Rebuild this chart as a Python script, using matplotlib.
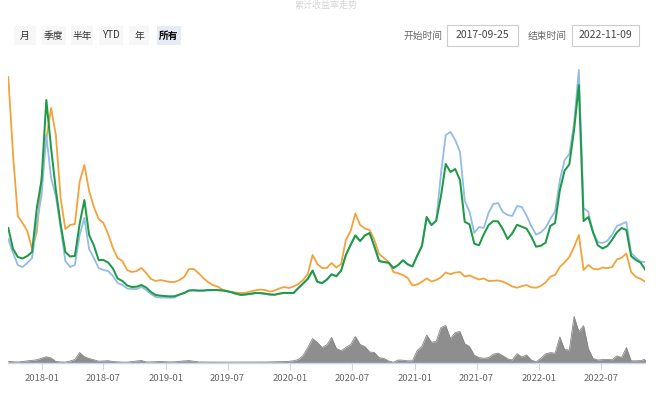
import numpy as np
import pandas as pd
import matplotlib
matplotlib.use('Agg')
import matplotlib.pyplot as plt
from matplotlib.patches import Rectangle

plt.rcParams['font.family'] = ['Noto Sans CJK SC', 'DejaVu Sans']

# ---------------- data ----------------
start_date = '2017-09-25'
end_date = '2022-11-09'
n_points = 135

orange = [223, 145, 84, 77, 69, 51, 68, 122, 161, 192,
          165, 102, 71, 75, 76, 118, 135, 109, 93, 81,
          77, 66, 52, 42, 39, 30, 28, 29, 32, 27,
          21, 19, 20, 19, 18, 18, 20, 23, 31, 31,
          27, 22, 18, 15, 13.5, 10.5, 9, 8, 7.3, 7,
          7.3, 8.5, 9.7, 10.4, 10, 8.4, 9.5, 11.5, 13, 12,
          13.5, 16, 20, 26, 45, 36, 32, 32, 37, 32.5,
          36, 60, 69, 86.5, 75, 71.5, 70, 60, 46, 42,
          38, 28, 26.7, 25, 22, 14.5, 15.5, 18.2, 21.7, 18.5,
          20, 22.7, 27.5, 25.8, 27.4, 28, 23.5, 24.5, 22.4, 20.5,
          21.5, 19, 19.2, 19.5, 18.4, 16.2, 13.5, 12.3, 13.8, 15,
          12.7, 12.3, 14, 17.5, 23.4, 25, 33, 37.6, 43, 53,
          65, 30, 35, 31.2, 30.6, 32.5, 31.8, 33, 40.5, 42.2,
          46.5, 28, 23, 21.2, 18]

green = [72, 51, 43, 41.5, 44, 48, 92, 120, 200, 152,
         110, 76, 48, 43.5, 44, 76, 100, 65, 54.5, 40,
         40, 37.5, 31.5, 21.5, 19, 14.5, 13, 13.3, 15, 12.5,
         8, 5, 4.3, 4, 3.6, 3.8, 5.5, 7.1, 9.5, 9.8,
         9.4, 9.5, 9.9, 10, 10, 9.6, 8.8, 7.7, 6.2, 5.1,
         5.6, 6.2, 7.1, 6.9, 6.4, 5.6, 5.3, 6.4, 7.2, 7,
         7, 12, 16.5, 21.3, 29.5, 18.2, 17, 20.4, 25.7, 23.8,
         29.4, 45.1, 55.2, 64.6, 59, 64.6, 67, 53.5, 39, 38,
         37.3, 32, 35, 39.7, 35.7, 33.6, 44.3, 54.2, 83, 75,
         79.2, 103.8, 136, 128, 131, 120, 78.2, 75.7, 56.4, 54.7,
         65.6, 74.8, 78.9, 78.6, 71, 61, 66.7, 75.2, 73.3, 71.4,
         63.5, 53.3, 54.2, 57.3, 74, 77, 109.7, 129.3, 135.6, 170.2,
         215, 79, 83, 67.5, 54.7, 51.5, 54, 60.2, 67.7, 72,
         70, 43.8, 40, 37.4, 30]

blue = [61, 47, 35, 33, 37, 42, 77, 105, 165, 122,
        104, 72, 39, 33, 35, 65, 82, 51, 42, 32,
        30, 29, 24, 17, 15, 11.5, 11, 11, 13, 10,
        6, 3, 2.5, 2.5, 2.2, 2.5, 5.3, 6.9, 9.3, 9.6,
        9.2, 9.3, 9.7, 9.8, 9.8, 9.4, 8.6, 7.5, 6.0, 4.9,
        5.4, 6.0, 6.9, 6.7, 6.2, 5.4, 5.1, 6.2, 7.0, 6.8,
        6.8, 11.8, 16.3, 21.1, 29.3, 18.0, 16.8, 20.2, 25.5, 23.6,
        29.2, 44.9, 55.0, 64.4, 58.8, 64.4, 66.8, 53.3, 38.8, 37.8,
        37.1, 31.8, 34.8, 39.5, 35.5, 33.4, 44.1, 54.0, 82.8, 74.8,
        79.2, 126, 165, 168, 160, 148.3, 99, 88.5, 67, 73,
        72, 87, 96, 97, 88, 85, 84, 94, 93, 84.5,
        74, 65.4, 67.6, 72.2, 81, 88.5, 119.7, 139.7, 146, 176.5,
        230, 92, 88, 67.3, 58, 57, 59.2, 65.3, 74, 76,
        78, 47, 42.5, 38.3, 38]

navigator = [1, 0.7, 0.5, 1, 1.6, 2.2, 2.7, 4.3, 5.8, 4.5,
             1, 0.6, 0.4, 1.5, 3, 10, 5.8, 4, 2.6, 1.3,
             1.6, 1.8, 1, 0.7, 0.4, 0.4, 0.9, 1.5, 2, 0.5,
             0.6, 0.8, 1, 0.8, 0.6, 0.7, 1.2, 1.6, 1.9, 1.2,
             0.6, 0.5, 0.4, 0.4, 0.4, 0.3, 0.3, 0.3, 0.3, 0.4,
             0.4, 0.4, 0.4, 0.5, 0.5, 0.6, 0.7, 0.8, 0.9, 1.2,
             1.7, 3, 7, 15, 24, 20, 15, 17.7, 25, 14,
             11.8, 15, 18, 26, 18, 16, 10.5, 10, 4.8, 4,
             1.5, 0.2, 2.5, 2.3, 1.7, 1.7, 12, 16.3, 27.5, 20.3,
             21, 35, 37, 24, 30, 31, 18.8, 16, 7.4, 4.8,
             4.3, 4.8, 8.3, 9.4, 6.8, 3.7, 2.5, 8.8, 5.5, 7.6,
             2.5, 0.7, 4.2, 8.5, 9.9, 9.3, 25.5, 13, 12.5, 46,
             31, 36.8, 13.9, 4, 2.5, 2.9, 3.1, 2.7, 6.6, 5,
             15, 1.7, 1.7, 1.9, 3.3]

tick_labels = ['2018-01', '2018-07', '2019-01', '2019-07', '2020-01',
               '2020-07', '2021-01', '2021-07', '2022-01', '2022-07']
buttons = ['月', '季度', '半年', 'YTD', '年', '所有']
selected_button = '所有'
start_label = '开始时间'
end_label = '结束时间'
title_text = '累计收益率走势'

# ---------------- figure ----------------
W, H = 671, 397
fig = plt.figure(figsize=(W / 100, H / 100), dpi=100)
fig.patch.set_facecolor('white')

dates = pd.date_range(start_date, end_date, periods=n_points)

x_left, x_right = 8.3, 645.4
main_top, main_bot = 65, 300
nav_top, nav_bot = 312.5, 362.5

ax = fig.add_axes([x_left / W, 1 - main_bot / H, (x_right - x_left) / W,
                   (main_bot - main_top) / H])
ax.plot(dates, orange, color='#F2A33A', lw=1.3, solid_joinstyle='round')
ax.plot(dates, blue, color='#93BCE6', lw=1.3, solid_joinstyle='round')
ax.plot(dates, green, color='#1F9A48', lw=1.45, solid_joinstyle='round')
ax.set_xlim(dates[0], dates[-1])
ax.set_ylim(0, 235)
ax.axis('off')

nav = fig.add_axes([x_left / W, 1 - nav_bot / H, (x_right - x_left) / W,
                    (nav_bot - nav_top) / H])
nav.fill_between(dates, navigator, 0, color='#8E8E8E', lw=0)
nav.plot(dates, navigator, color='#858585', lw=0.6)
nav.set_xlim(dates[0], dates[-1])
nav.set_ylim(0, 50)
for s in ['top', 'left', 'right']:
    nav.spines[s].set_visible(False)
nav.spines['bottom'].set_color('#CCD6EB')
nav.spines['bottom'].set_linewidth(1.0)
nav.set_yticks([])
nav.set_xticks([pd.Timestamp(t + '-01') for t in tick_labels])
nav.set_xticklabels(tick_labels, fontsize=6.8, color='#666666')
nav.tick_params(axis='x', length=5, width=0.8, color='#CCD6EB', pad=3)
nav.set_facecolor('none')

# ---------------- UI overlay ----------------
ov = fig.add_axes([0, 0, 1, 1], zorder=-1)
ov.set_xlim(0, W)
ov.set_ylim(H, 0)
ov.axis('off')

ov.text(326, 5.5, title_text, ha='center', va='center', fontsize=6.5,
        color='#D5D5D5')

btn_centers = [24.6, 53.8, 82.3, 111, 139, 168.8]
btn_widths = [22, 24, 22, 24, 20, 24]
for lab, cx, bw in zip(buttons, btn_centers, btn_widths):
    sel = lab == selected_button
    ov.add_patch(Rectangle((cx - bw / 2, 25.5), bw, 19,
                           facecolor='#E6EBF5' if sel else '#F7F7F7',
                           edgecolor='none'))
    ov.text(cx, 35.5, lab, ha='center', va='center', fontsize=7,
            color='#000000' if sel else '#333333',
            fontweight='bold' if sel else 'normal')

ov.text(443, 35.5, start_label, ha='right', va='center', fontsize=7,
        color='#666666')
ov.add_patch(Rectangle((447, 25), 71, 21, facecolor='white',
                       edgecolor='#CCCCCC', lw=0.8))
ov.text(482.5, 35.5, start_date, ha='center', va='center', fontsize=7.5,
        color='#444444')

ov.text(567, 35.5, end_label, ha='right', va='center', fontsize=7,
        color='#666666')
ov.add_patch(Rectangle((572, 25), 67, 21, facecolor='white',
                       edgecolor='#CCCCCC', lw=0.8))
ov.text(605.5, 35.5, end_date, ha='center', va='center', fontsize=7.5,
        color='#444444')

fig.savefig('out.png', dpi=100, facecolor='white')
